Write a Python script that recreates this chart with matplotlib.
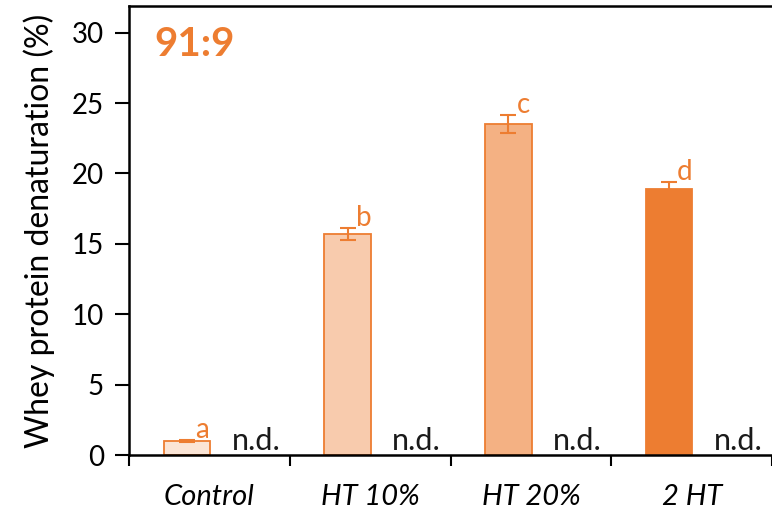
import matplotlib.pyplot as plt
import numpy as np

""" Data """
categories = ["Control", "HT 10%", "HT 20%", "2 HT"]
values = [1.0, 15.7, 23.5, 18.9]
errors = [0.05, 0.45, 0.65, 0.5]
letters = ["a", "b", "c", "d"]
nd_labels = ["n.d.", "n.d.", "n.d.", "n.d."]

fills = ["#FBE5D6", "#F8CBAD", "#F4B183", "#ED7D31"]
orange = "#ED7D31"

plt.rcParams['font.family'] = ['Lato', 'DejaVu Sans']

""" Plot """
fig = plt.figure(figsize=(7.72, 5.15), dpi=100)
ax = fig.add_axes([129 / 772, 60 / 515, 643 / 772, 449 / 515])

x = np.arange(len(categories))
bar_x = x + 0.36
ax.bar(bar_x, values, width=0.29, color=fills, edgecolor=orange, linewidth=1.3)
ax.errorbar(bar_x, values, yerr=errors, fmt="none", ecolor=orange,
            elinewidth=1.5, capsize=5.5, capthick=1.5)

for i in range(len(categories)):
    ax.text(bar_x[i] + 0.05, values[i] + errors[i] - 0.2, letters[i],
            color=orange, fontsize=20, ha="left", va="bottom")
    ax.text(x[i] + 0.79, 0.0, nd_labels[i], fontsize=22, ha="center",
            va="bottom", color="#1a1a1a")

ax.text(0.16, 29.2, "91:9", color=orange, fontsize=29, fontweight="bold",
        ha="left", va="center")

ax.set_xlim(0, 4)
ax.set_ylim(0, 31.9)
ax.set_yticks(np.arange(0, 31, 5))
ax.set_ylabel("Whey protein denaturation (%)", fontsize=23, labelpad=12)

ax.set_xticks(np.arange(0, 5))
ax.set_xticklabels([])
ax.set_xticks(x + 0.5, minor=True)
ax.set_xticklabels(categories, minor=True, fontsize=21, style="italic")
ax.tick_params(axis="x", which="minor", length=0, pad=21)
ax.tick_params(axis="x", which="major", direction="out", length=8, width=1.5)
ax.tick_params(axis="y", direction="out", length=10, width=1.5, labelsize=20,
               pad=8)

ax.spines["right"].set_visible(False)
for s in ["left", "top", "bottom"]:
    ax.spines[s].set_linewidth(1.8)

plt.savefig("out.png", dpi=100)
